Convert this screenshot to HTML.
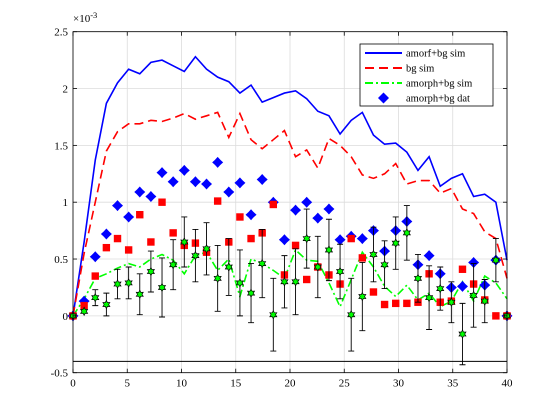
<!DOCTYPE html>
<html><head><meta charset="utf-8"><style>
body{margin:0;background:#fff}
svg{display:block;font-family:"Liberation Serif",serif}
</style></head><body>
<svg id="chart" width="560" height="420" viewBox="0 0 560 420" xmlns="http://www.w3.org/2000/svg">
<rect width="560" height="420" fill="#fff"/>
<g id="grid"></g>
<g id="marks"></g>
<g id="axes"></g>
<text x="73" y="22" font-size="11">×10<tspan dy="-4" font-size="8.5">-3</tspan></text>
<g>
<rect x="360" y="44" width="133" height="62" fill="#fff" stroke="#000" stroke-width="0.8"/>
<g><line x1="365" y1="53" x2="402" y2="53" stroke="#0000ff" stroke-width="2"/><text x="406" y="56.5" font-size="10.5">amorf+bg sim</text></g>
<g><line x1="365" y1="68" x2="402" y2="68" stroke="#ff0000" stroke-width="2" stroke-dasharray="9,5"/><text x="406" y="71.5" font-size="10.5">bg sim</text></g>
<g><line x1="365" y1="83" x2="402" y2="83" stroke="#00ff00" stroke-width="2" stroke-dasharray="8,3,2,3"/><text x="406" y="86.5" font-size="10.5">amorph+bg sim</text></g>
<g><path d="M383.5,92.5 Q386,95 389,98 Q386,101 383.5,103.5 Q381,101 378,98 Q381,95 383.5,92.5 Z" fill="#0000ff"/><text x="406" y="101.5" font-size="10.5">amorph+bg dat</text></g>
</g>
</svg>
<script>
const amorfSim=[0,0.65,1.37,1.87,2.05,2.17,2.13,2.23,2.25,2.2,2.15,2.28,2.17,2.1,2.06,1.96,2.03,1.88,1.92,1.96,1.98,1.91,1.80,1.76,1.60,1.72,1.79,1.59,1.51,1.52,1.44,1.28,1.40,1.14,1.21,1.25,1.05,1.07,1.00,0.49];
const bgSim=[0,0.55,1.0,1.45,1.62,1.69,1.69,1.72,1.71,1.74,1.78,1.73,1.76,1.79,1.57,1.78,1.55,1.47,1.55,1.63,1.40,1.46,1.30,1.56,1.50,1.40,1.24,1.21,1.25,1.34,1.16,1.19,1.19,1.08,1.12,0.94,0.90,0.74,0.68,0.33];
const amorphSim=[0,0.15,0.33,0.37,0.42,0.46,0.43,0.50,0.54,0.49,0.37,0.53,0.56,0.40,0.50,0.17,0.50,0.46,0.40,0.33,0.58,0.49,0.48,0.29,0.08,0.32,0.56,0.43,0.26,0.17,0.27,0.14,0.20,0.08,0.13,0.30,0.13,0.35,0.29,0.15];
const amorphDat=[0,0.13,0.52,0.72,0.97,0.87,1.09,1.05,1.26,1.18,1.28,1.18,1.16,1.35,1.09,1.17,0.89,1.20,1.00,0.67,0.93,1.00,0.86,0.94,0.67,0.70,0.68,0.75,0.57,0.75,0.83,0.45,0.53,0.37,0.25,0.26,0.47,0.27,0.49,0];
const bgDat=[0,0.09,0.35,0.60,0.68,0.58,0.89,0.65,1.00,0.73,0.62,0.64,0.56,1.01,0.65,0.87,0.68,0.73,0.98,0.36,0.62,0.32,0.43,0.36,0.28,0.68,0.51,0.21,0.10,0.11,0.11,0.12,0.37,0.12,0.13,0.41,0.28,0.14,0,0];
const diffDat=[0,0.04,0.16,0.10,0.28,0.29,0.19,0.39,0.25,0.45,0.65,0.53,0.59,0.33,0.43,0.29,0.20,0.46,0.01,0.30,0.30,0.68,0.43,0.58,0.39,0.01,0.17,0.54,0.45,0.64,0.73,0.33,0.16,0.24,0.12,-0.16,0.18,0.13,0.49,0];
const diffErr=[0,0.03,0.07,0.10,0.13,0.14,0.18,0.18,0.26,0.22,0.22,0.23,0.23,0.29,0.25,0.29,0.26,0.30,0.32,0.23,0.29,0.26,0.27,0.27,0.24,0.32,0.30,0.24,0.21,0.23,0.24,0.21,0.28,0.19,0.18,0.27,0.28,0.19,0.19,0];
const xTicks=[0,5,10,15,20,25,30,35,40];
const yTicks=[-0.5,0,0.5,1,1.5,2,2.5];
const yTickLabels=["-0.5","0","0.5","1","1.5","2","2.5"];
const baseline=-0.4;
const X0=73,X1=507,Y0=372.7,Y1=31.7;
const sx=v=>X0+(v-0)/(40-0)*(X1-X0);
const sy=v=>Y0-(v+0.5)/3*(Y0-Y1);
const sxi=i=>sx(i*40/(amorfSim.length-1));
const NS="http://www.w3.org/2000/svg";
function mk(tag,attrs,parent){const e=document.createElementNS(NS,tag);for(const k in attrs)e.setAttribute(k,attrs[k]);parent.appendChild(e);return e;}
const grid=document.getElementById('grid'),marks=document.getElementById('marks'),axes=document.getElementById('axes');
xTicks.forEach(t=>{const l=mk('line',{x1:sx(t),x2:sx(t),y1:Y0,y2:Y1,stroke:'#dcdcdc','stroke-width':0.8},grid);

});
yTicks.forEach(t=>{const l=mk('line',{x1:X0,x2:X1,y1:sy(t),y2:sy(t),stroke:'#dcdcdc','stroke-width':0.8},grid);

});
const bl=mk('line',{x1:X0,x2:X1,y1:sy(baseline),y2:sy(baseline),stroke:'#000','stroke-width':1},marks);


function line(arr,color,dash,name){const p=mk('polyline',{points:arr.map((v,i)=>sxi(i)+','+sy(v)).join(' '),fill:'none',stroke:color,'stroke-width':1.6,'stroke-dasharray':dash},marks);

}
line(amorfSim,'#0000ff','none','amorf-sim-line');
line(bgSim,'#ff0000','9,5','bg-sim-line');
line(amorphSim,'#00ff00','8,3,2,3','amorph-sim-line');
amorphDat.forEach((v,i)=>{const x=sxi(i),y=sy(v);const d=mk('path',{d:`M${x},${y-5.5} Q${x+2.5},${y-2.5} ${x+5.5},${y} Q${x+2.5},${y+2.5} ${x},${y+5.5} Q${x-2.5},${y+2.5} ${x-5.5},${y} Q${x-2.5},${y-2.5} ${x},${y-5.5} Z`,fill:'#0000ff'},marks);

});
bgDat.forEach((v,i)=>{const x=sxi(i),y=sy(v);const r=mk('rect',{x:x-3.7,y:y-3.7,width:7.4,height:7.4,fill:'#ff0000'},marks);

});
diffDat.forEach((v,i)=>{const x=sxi(i),y=sy(v),e=diffErr[i];
if(e>0.04){const g=mk('path',{d:`M${x},${sy(v+e)} V${sy(v-e)} M${x-3},${sy(v+e)} H${x+3} M${x-3},${sy(v-e)} H${x+3}`,stroke:'#000','stroke-width':0.9,fill:'none'},marks);

}
let pts=[];for(let k=0;k<12;k++){const a=-Math.PI/2+k*Math.PI/6;const r=k%2?2.2:4;pts.push((x+r*Math.cos(a)).toFixed(2)+','+(y+r*Math.sin(a)).toFixed(2));}
const s=mk('polygon',{points:pts.join(' '),fill:'#00ff00',stroke:'#000','stroke-width':0.7},marks);

});
const box=mk('rect',{x:X0,y:Y1,width:X1-X0,height:Y0-Y1,fill:'none',stroke:'#000','stroke-width':0.8},axes);


xTicks.forEach(t=>{mk('line',{x1:sx(t),x2:sx(t),y1:Y0,y2:Y0-4,stroke:'#000','stroke-width':0.8},axes);mk('line',{x1:sx(t),x2:sx(t),y1:Y1,y2:Y1+4,stroke:'#000','stroke-width':0.8},axes);
const tx=mk('text',{x:sx(t),y:Y0+14,'font-size':11,'text-anchor':'middle'},axes);tx.textContent=t;

});
yTicks.forEach((t,i)=>{mk('line',{x1:X0,x2:X0+4,y1:sy(t),y2:sy(t),stroke:'#000','stroke-width':0.8},axes);mk('line',{x1:X1,x2:X1-4,y1:sy(t),y2:sy(t),stroke:'#000','stroke-width':0.8},axes);
const tx=mk('text',{x:X0-5,y:sy(t)+4,'font-size':11,'text-anchor':'end'},axes);tx.textContent=yTickLabels[i];

});
</script>
</body></html>
